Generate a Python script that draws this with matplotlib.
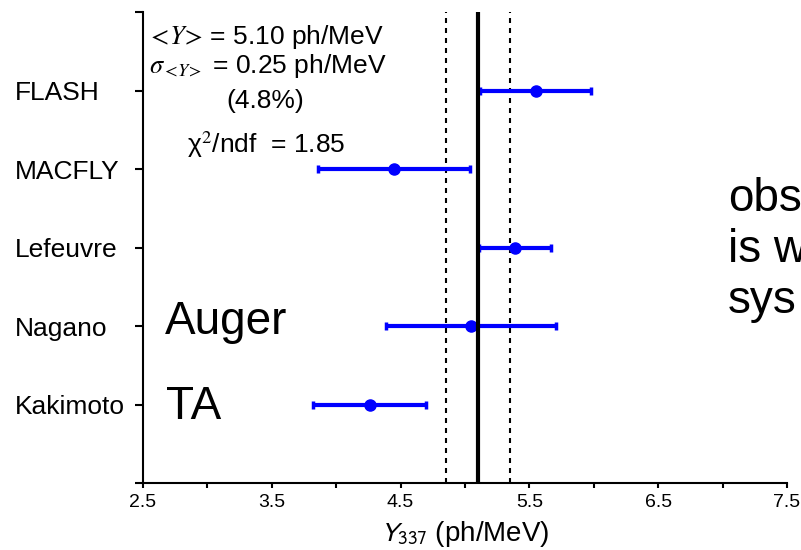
import matplotlib
matplotlib.use('Agg')  # no display
import matplotlib.pyplot as plt

# fluorescence yield measurements (ph/MeV)
experiments = ['FLASH', 'MACFLY', 'Lefeuvre', 'Nagano', 'Kakimoto']
row_pos = [5, 4, 3, 2, 1]
yield_337 = [5.55, 4.45, 5.39, 5.05, 4.26]
yield_err = [0.43, 0.59, 0.28, 0.66, 0.44]

mean_y = 5.10
sigma_mean = 0.25

x_major = [2.5, 3.5, 4.5, 5.5, 6.5, 7.5]
x_minor = [3.0, 4.0, 5.0, 6.0, 7.0]

plt.rcParams['font.family'] = ['Liberation Sans', 'DejaVu Sans']
plt.rcParams['mathtext.fontset'] = 'stix'

fig = plt.figure(figsize=(8.01, 5.5), dpi=100)
ax = fig.add_axes([0.1785, 0.1218, 0.804, 0.856])

ax.errorbar(yield_337, row_pos, xerr=yield_err, fmt='o', color='#0000ff',
            ms=8, lw=3, capsize=3, capthick=2.5, zorder=3)
ax.axvline(mean_y - sigma_mean, color='black', lw=1.5, ls=(0, (2.4, 2.4)), zorder=2)
ax.axvline(mean_y + sigma_mean, color='black', lw=1.5, ls=(0, (2.4, 2.4)), zorder=2)
ax.axvline(mean_y, color='black', lw=3, zorder=4)

ax.set_xlim(2.5, 7.5)
ax.set_ylim(0, 6)
ax.set_xticks(x_major)
ax.set_xticklabels([f'{v:.1f}' for v in x_major])
ax.set_xticks(x_minor, minor=True)
ax.set_yticks([0] + row_pos[::-1] + [6])
ax.set_yticklabels([''] + experiments[::-1] + [''])
for lab in ax.get_yticklabels():
    lab.set_horizontalalignment('left')

for side in ['top', 'right']:
    ax.spines[side].set_visible(False)
for side in ['left', 'bottom']:
    ax.spines[side].set_linewidth(1.5)

ax.tick_params(axis='y', direction='out', length=6, width=1.5, labelsize=19, pad=86)
ax.tick_params(axis='x', which='both', direction='out', length=3.6, width=1.5,
               labelsize=14, pad=4)

ax.set_xlabel(r'$Y_{337}$ (ph/MeV)', fontsize=20, labelpad=6, math_fontfamily='stixsans')

# fit summary
ax.text(2.53, 5.59, r'${<}\!Y\!{>}\,$' + f'= {mean_y:.2f} ph/MeV', fontsize=19, va='baseline')
ax.text(2.55, 5.23, r'$\sigma_{{<}\!Y\!{>}}$' + f' = {sigma_mean:.2f} ph/MeV', fontsize=19,
        va='baseline')
ax.text(3.45, 4.78, '(4.8%)', fontsize=19, va='baseline', ha='center')
ax.text(2.84, 4.21, 'χ$^{2}$/ndf  = 1.85', fontsize=19, va='baseline')

ax.text(2.67, 1.9, 'Auger', fontsize=33, va='baseline')
ax.text(2.68, 0.81, 'TA', fontsize=33, va='baseline')
# multi-line baseline sits on the last line
ax.text(7.04, 2.17, 'obs\nis w\nsys', fontsize=33, va='baseline', linespacing=1.2)

fig.savefig('out.png', dpi=100)
plt.close(fig)
